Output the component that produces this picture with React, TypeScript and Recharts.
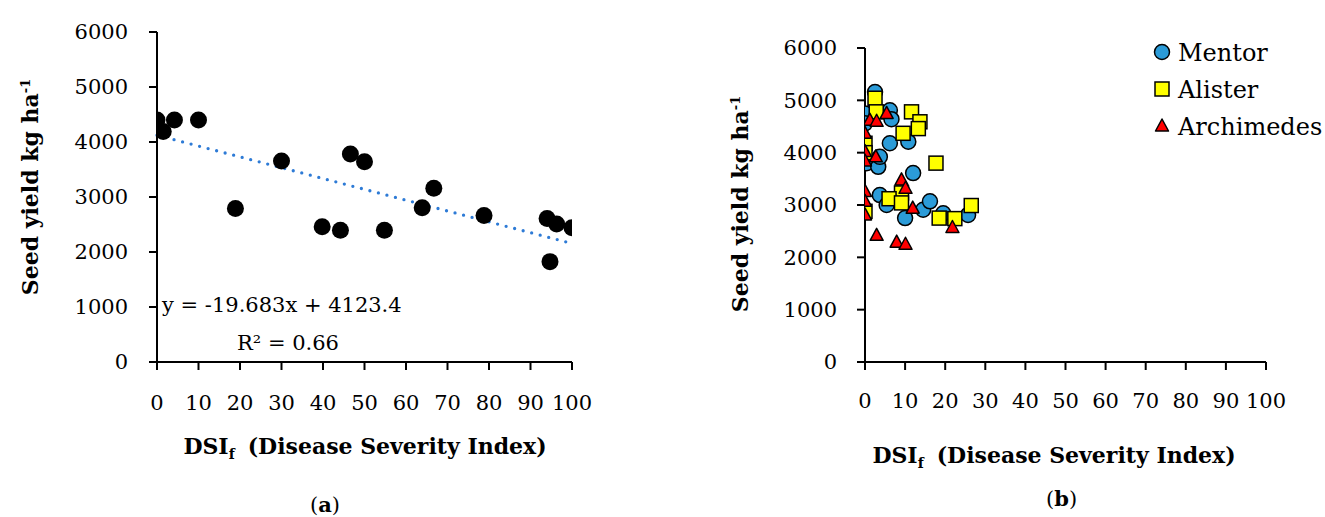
import React from "react";
import { ScatterChart, Scatter, XAxis, YAxis, ReferenceLine, Label, Legend } from "recharts";

const FONT = "'DejaVu Serif', serif";

const DSI_TICKS = [0, 10, 20, 30, 40, 50, 60, 70, 80, 90, 100];
const YIELD_TICKS = [0, 1000, 2000, 3000, 4000, 5000, 6000];

// (a) all cultivars pooled
const pooledDsi = [0, 1.5, 4.2, 10, 18.9, 30, 39.8, 44.2, 46.6, 50, 54.8, 63.9, 66.7, 78.8, 94, 96.3, 100, 94.7];
const pooledYield = [4400, 4190, 4400, 4400, 2790, 3655, 2460, 2395, 3780, 3640, 2395, 2805, 3160, 2665, 2610, 2510, 2440, 1825];

// linear fit printed on (a): y = -19.683x + 4123.4
const trendDsi = [0, 100];
const trendYield = [4123.4, 2155.1];

// (b) per cultivar
const mentorDsi = [2.5, 0, 6.2, 6.6, 0, 6.2, 10.8, 0.4, 3.3, 3.7, 12, 3.7, 5.4, 10, 14.5, 16.2, 19.5, 25.7];
const mentorYield = [5160, 4750, 4810, 4640, 4560, 4180, 4210, 3800, 3730, 3920, 3610, 3190, 3000, 2750, 2910, 3070, 2840, 2810];

const alisterDsi = [2.5, 2.8, 11.6, 13.7, 13.3, 9.5, 0, 0, 17.7, 9.1, 6, 9.1, 0, 18.5, 22.4, 26.5];
const alisterYield = [5040, 4780, 4780, 4590, 4460, 4370, 4180, 4000, 3800, 3230, 3120, 3040, 2880, 2750, 2740, 2990];

const archimedesDsi = [5.4, 1.2, 2.9, 0, 0, 2.7, 0, 9.1, 10.1, 0, 0, 11.9, 0, 21.8, 2.9, 7.9, 10.1];
const archimedesYield = [4750, 4620, 4600, 4370, 4020, 3920, 3840, 3480, 3320, 3260, 3070, 2940, 2810, 2570, 2420, 2290, 2250];

const SERIES_NAMES = ["Mentor", "Alister", "Archimedes"];
const MENTOR_BLUE = "#2B9BD8";
const ALISTER_YELLOW = "#FFFF00";
const ARCHIMEDES_RED = "#FF0000";

const toPoints = (xs: number[], ys: number[]) => xs.map((x, i) => ({ x, y: ys[i] }));

const pooled = toPoints(pooledDsi, pooledYield);
const trend = toPoints(trendDsi, trendYield);
const mentor = toPoints(mentorDsi, mentorYield);
const alister = toPoints(alisterDsi, alisterYield);
const archimedes = toPoints(archimedesDsi, archimedesYield);

const axisStroke = { stroke: "#000", strokeWidth: 2 };
const tickFont = { fill: "#000", fontSize: 21, fontFamily: FONT };

// markers
const BlackDot = (p: any) => <circle cx={p.cx} cy={p.cy} r={8.5} fill="#000" />;
const Circle = (p: any) => (
  <circle cx={p.cx} cy={p.cy} r={7.5} fill={MENTOR_BLUE} stroke="#000" strokeWidth={1.5} />
);
const Square = (p: any) => (
  <rect x={p.cx - 7} y={p.cy - 7} width={14} height={14} fill={ALISTER_YELLOW} stroke="#000" strokeWidth={1.5} />
);
const Triangle = (p: any) => (
  <polygon
    points={`${p.cx},${p.cy - 7} ${p.cx + 6.5},${p.cy + 5} ${p.cx - 6.5},${p.cy + 5}`}
    fill={ARCHIMEDES_RED}
    stroke="#000"
    strokeWidth={1.5}
    strokeLinejoin="round"
  />
);
const MARKERS = [Circle, Square, Triangle];

// axis titles (need sub/superscripts, so custom label content)
const yTitle = (x: number, cy: number) => () => (
  <text
    x={x}
    y={cy}
    transform={`rotate(-90 ${x} ${cy})`}
    textAnchor="middle"
    fontFamily={FONT}
    fontWeight="bold"
    fontSize={22}
    fill="#000"
  >
    Seed yield kg ha<tspan dy={-8} fontSize={13}>-1</tspan>
  </text>
);

const xTitle = (cx: number, y: number) => () => (
  <text x={cx} y={y} textAnchor="middle" fontFamily={FONT} fontWeight="bold" fontSize={22} fill="#000">
    DSI<tspan dy={5} fontSize={14}>f</tspan>
    <tspan dy={-5} dx={13}>(Disease Severity Index)</tspan>
  </text>
);

const renderLegend = () => (
  <svg width={175} height={100}>
    {SERIES_NAMES.map((name, i) => {
      const Mark = MARKERS[i];
      const cy = 12 + i * 37;
      return (
        <g key={name}>
          <Mark cx={12} cy={cy} />
          <text x={28} y={cy + 8.5} fontFamily={FONT} fontSize={24} fill="#000">
            {name}
          </text>
        </g>
      );
    })}
  </svg>
);

const axisCommon = {
  type: "number" as const,
  axisLine: axisStroke,
  tickLine: axisStroke,
  tickSize: 8,
  tick: tickFont,
  interval: 0 as const,
  allowDataOverflow: true,
};

export default function App() {
  return (
    <div
      style={{
        position: "absolute",
        left: 0,
        top: 0,
        width: 1325,
        height: 517,
        background: "#fff",
        fontFamily: FONT,
        color: "#000",
      }}
    >
      {/* (a) */}
      <div style={{ position: "absolute", left: 0, top: 0 }}>
        <ScatterChart width={620} height={517} margin={{ top: 32, right: 48, bottom: 95, left: 77 }}>
          <XAxis {...axisCommon} dataKey="x" domain={[0, 100]} ticks={DSI_TICKS} tickMargin={25} height={60}>
            <Label content={xTitle(365, 454)} />
          </XAxis>
          <YAxis {...axisCommon} dataKey="y" domain={[0, 6000]} ticks={YIELD_TICKS} tickMargin={21} width={80}>
            <Label content={yTitle(38, 187)} />
          </YAxis>
          <Scatter data={pooled} shape={BlackDot} isAnimationActive={false} />
          <ReferenceLine
            segment={trend}
            stroke="#2E7BD6"
            strokeWidth={3.3}
            strokeDasharray="0 8.8"
            strokeLinecap="round"
          />
        </ScatterChart>
        <div style={{ position: "absolute", left: 162, top: 295, fontSize: 21, lineHeight: "21px", whiteSpace: "nowrap" }}>
          y = -19.683x + 4123.4
        </div>
        <div style={{ position: "absolute", left: 237, top: 333, fontSize: 21, lineHeight: "21px", whiteSpace: "nowrap" }}>
          R² = 0.66
        </div>
        <div style={{ position: "absolute", left: 310, top: 494, fontSize: 21, lineHeight: "21px" }}>
          (<b>a</b>)
        </div>
      </div>

      {/* (b) */}
      <div style={{ position: "absolute", left: 640, top: 0 }}>
        <ScatterChart width={685} height={517} margin={{ top: 48, right: 59, bottom: 95, left: 145 }}>
          <XAxis {...axisCommon} dataKey="x" domain={[0, 100]} ticks={DSI_TICKS} tickMargin={23} height={60}>
            <Label content={xTitle(414, 463)} />
          </XAxis>
          <YAxis {...axisCommon} dataKey="y" domain={[0, 6000]} ticks={YIELD_TICKS} tickMargin={20} width={80}>
            <Label content={yTitle(108, 204)} />
          </YAxis>
          <Scatter name="Mentor" data={mentor} shape={Circle} isAnimationActive={false} />
          <Scatter name="Alister" data={alister} shape={Square} isAnimationActive={false} />
          <Scatter name="Archimedes" data={archimedes} shape={Triangle} isAnimationActive={false} />
          <Legend
            layout="vertical"
            align="center"
            verticalAlign="middle"
            content={renderLegend}
            wrapperStyle={{ left: 510, top: 40, width: 175, height: 100 }}
          />
        </ScatterChart>
        <div style={{ position: "absolute", left: 406, top: 488, fontSize: 21, lineHeight: "21px" }}>
          (<b>b</b>)
        </div>
      </div>
    </div>
  );
}
